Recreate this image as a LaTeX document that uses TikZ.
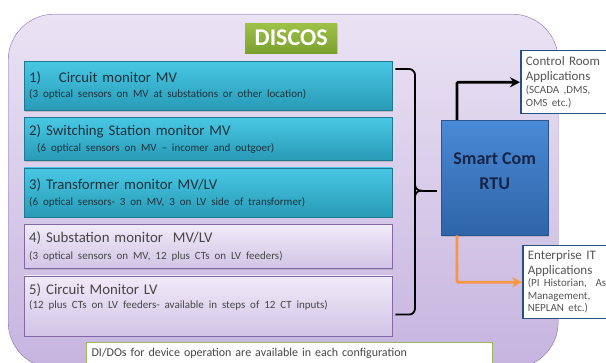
\documentclass[tikz,border=0pt]{standalone}
\usepackage{fontspec}
\setmainfont{Carlito}
\usetikzlibrary{arrows.meta, positioning, shadows, calc}
\definecolor{outerFill}{RGB}{234,227,244}
\definecolor{outerShade}{RGB}{198,180,223}
\definecolor{outerLine}{RGB}{140,112,178}
\definecolor{cyanTop}{RGB}{72,200,228}
\definecolor{cyanBot}{RGB}{40,154,182}
\definecolor{cyanLine}{RGB}{30,120,145}
\definecolor{lavTop}{RGB}{240,235,248}
\definecolor{lavBot}{RGB}{210,196,230}
\definecolor{lavLine}{RGB}{130,105,165}
\definecolor{greenTop}{RGB}{158,194,72}
\definecolor{greenBot}{RGB}{124,160,46}
\definecolor{greenLine}{RGB}{155,187,89}
\definecolor{rtuTop}{RGB}{74,138,214}
\definecolor{rtuBot}{RGB}{47,100,168}
\definecolor{rtuLine}{RGB}{40,84,144}
\definecolor{rtuInk}{RGB}{22,36,70}
\definecolor{appLine}{RGB}{40,80,130}
\definecolor{appInk}{RGB}{85,85,85}
\definecolor{boxInk}{RGB}{30,50,60}
\definecolor{lavInk}{RGB}{70,70,70}
\definecolor{orangeLine}{RGB}{247,150,70}
\newcommand{\subline}{\fontsize{11}{12}\selectfont}
\newcommand{\appsub}{\fontsize{11}{12}\selectfont}
\tikzset{
  monbox/.style={
    anchor=north west,
    minimum width=368pt,
    text width=358pt,
    inner xsep=5pt,
    align=left,
    font=\fontsize{14.8}{16}\selectfont,
    drop shadow={shadow xshift=1pt, shadow yshift=-1.5pt, opacity=.35}
  },
  cyanbox/.style={monbox, top color=cyanTop, bottom color=cyanBot, draw=cyanLine, text=boxInk},
  lavbox/.style={monbox, top color=lavTop, bottom color=lavBot, draw=lavLine, text=lavInk},
  appbox/.style={
    anchor=north west,
    draw=appLine,
    line width=1.5pt,
    fill=white,
    align=left,
    text=appInk,
    inner xsep=5pt,
    inner ysep=3pt,
    text width=120pt,
    font=\fontsize{13}{14.5}\selectfont
  },
  link/.style={-{Stealth[length=10pt,width=10pt]}, line width=2.6pt, rounded corners=1pt},
  brace/.style={line width=1.8pt, rounded corners=6pt}
}

\begin{document}
\begin{tikzpicture}[x=1pt, y=-1pt]
  \clip (0,0) rectangle (606,363);
  \fill[white] (0,0) rectangle (606,363);

  % outer frame
  \node[anchor=north west, minimum width=550pt, minimum height=354pt, rounded corners=46pt,
        top color=outerFill, bottom color=outerShade, draw=outerLine] (frame) at (8,14) {};

  \node[anchor=north west, top color=greenTop, bottom color=greenBot, minimum width=92pt, minimum height=30pt,
        text=white, font=\fontsize{24}{26}\selectfont\bfseries,
        drop shadow={shadow xshift=1pt, shadow yshift=-1pt, opacity=.25}] (tag) at (245,23) {DISCOS};

  % monitor boxes
  \node[cyanbox, minimum height=49pt] (circuitMV) at (24,61)
    {1)\hspace{1.2em}Circuit monitor MV\\[-1pt]{\subline (3 optical sensors on MV at substations or other location)}};
  \node[cyanbox, minimum height=43pt, below=7pt of circuitMV] (switchMV)
    {2) Switching Station monitor MV\\[0pt]{\subline \hspace{8pt}(6 optical sensors on MV -- incomer and outgoer)}};
  \node[cyanbox, minimum height=49pt, below=7pt of switchMV] (trafoMV)
    {3) Transformer monitor MV/LV\\[0pt]{\subline (6 optical sensors- 3 on MV, 3 on LV side of transformer)}};
  \node[lavbox, minimum height=44pt, below=7pt of trafoMV] (substation)
    {4) Substation monitor\ \ MV/LV\\[1pt]{\subline (3 optical sensors on MV, 12 plus CTs on LV feeders)}};
  \node[lavbox, minimum height=60pt, text depth=34pt, below=7pt of substation] (circuitLV)
    {5) Circuit Monitor LV\\[-2pt]{\subline (12 plus CTs on LV feeders- available in steps of 12 CT inputs)}};

  % RTU and applications
  \node[anchor=north west, minimum width=107pt, minimum height=115pt, top color=rtuTop, bottom color=rtuBot,
        draw=rtuLine, text=rtuInk, align=center, font=\fontsize{18}{25}\selectfont\bfseries, text depth=14pt,
        drop shadow={shadow xshift=1pt, shadow yshift=-1.5pt, opacity=.3}] (rtu) at (441,120)
    {Smart Com\\RTU};
  \node[appbox, minimum height=63pt] (control) at (520,50)
    {Control Room\\Applications\\[-1pt]{\appsub (SCADA ,DMS,}\\[-2pt]{\appsub OMS etc.)}};
  \node[appbox, minimum height=73pt] (enterprise) at (522,245)
    {Enterprise IT\\Applications\\[-2pt]{\appsub (PI Historian,\ \ Asset}\\[-2pt]{\appsub Management,}\\[-2pt]{\appsub NEPLAN etc.)}};

  \node[anchor=north west, draw=greenLine, line width=1.2pt, fill=white, minimum width=406pt, minimum height=30pt,
        text width=396pt, align=left, text=lavInk, font=\fontsize{12}{14}\selectfont, text depth=10pt] (note) at (86,342)
    {DI/DOs for device operation are available in each configuration};

  % brace gathering the five boxes
  \coordinate (braceTop) at ($(circuitMV.north east)+(3,8)$);
  \coordinate (braceBot) at ($(circuitLV.north east)+(3,39)$);
  \coordinate (braceTip) at ($(rtu.west)+(-19,13)$);
  \draw[brace] (braceTop) -| ($(braceTip)+(-7,-4)$) -- ($(braceTip)+(-7,-3)$) |- (braceTip);
  \draw[brace] (braceBot) -| ($(braceTip)+(-7,4)$) -- ($(braceTip)+(-7,3)$) |- (braceTip);
  \draw[line width=1.8pt] (braceTip) -- ($(braceTip -| rtu.west)+(-4,0)$);

  % outgoing links
  \draw[link] ($(rtu.north west)+(16,0)$) |- (control.west);
  \draw[link, draw=orangeLine] ($(rtu.south west)+(16,0)$) |- (enterprise.west);
\end{tikzpicture}
\end{document}
